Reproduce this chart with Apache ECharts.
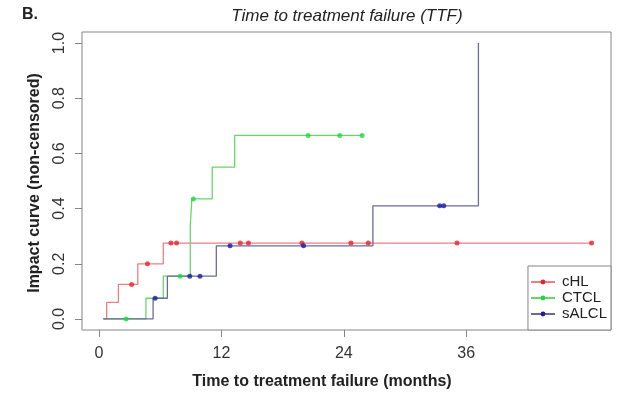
<!DOCTYPE html>
<html>
<head>
<meta charset="utf-8">
<script src="https://cdn.jsdelivr.net/npm/echarts@6/dist/echarts.min.js"></script>
<style>
  html, body { margin: 0; padding: 0; background: #fff; }
  #chart { width: 621px; height: 397px; }
</style>
</head>
<body>
<div id="chart"></div>
<script>
// Cumulative incidence of treatment failure, months since start.
// Step curves: value holds from each time until the next one.
const cHLTimes    = [0.42, 0.75, 1.9, 3.8, 6.3, 48.3];
const cHLValues   = [0, 0.06, 0.125, 0.2, 0.275, 0.275];
const cHLCensored = [3.2, 4.75, 7.05, 7.6, 13.85, 14.65, 19.9, 24.7, 26.4, 35.1, 48.3];

const ctclTimes    = [0.42, 4.6, 6.3, 8.95, 9.1, 11.1, 13.3, 25.8];
const ctclValues   = [0, 0.075, 0.155, 0.34, 0.435, 0.55, 0.665, 0.665];
const ctclCensored = [2.65, 7.95, 9.25, 20.5, 23.6, 25.8];

const salclTimes    = [0.42, 5.3, 6.7, 11.5, 26.85, 37.2];
const salclValues   = [0, 0.075, 0.155, 0.265, 0.41, 1.0];
const salclCensored = [5.5, 8.9, 9.9, 12.85, 20.05, 33.4, 33.8];

const xTicks = [0, 12, 24, 36];
const yTicks = [0, 0.2, 0.4, 0.6, 0.8, 1.0];

const groups = [
  { name: 'cHL',   times: cHLTimes,   values: cHLValues,   censored: cHLCensored,   line: '#ec7f84', dot: '#e8202c' },
  { name: 'CTCL',  times: ctclTimes,  values: ctclValues,  censored: ctclCensored,  line: '#6ad66a', dot: '#1ed83c' },
  { name: 'sALCL', times: salclTimes, values: salclValues, censored: salclCensored, line: '#6b6b98', dot: '#1c1ca8' }
];

// value of a step curve at time t
function stepValue(times, values, t) {
  let v = values[0];
  for (let i = 0; i < times.length; i++) {
    if (times[i] <= t) v = values[i];
  }
  return v;
}

const series = [];
groups.forEach(g => {
  series.push({
    name: g.name,
    type: 'line',
    step: 'end',
    data: g.times.map((t, i) => [t, g.values[i]]),
    symbol: 'circle',
    showSymbol: false,
    lineStyle: { color: g.line, width: 1.3 },
    itemStyle: { color: g.dot },
    animation: false,
    silent: true
  });
});
groups.forEach(g => {
  series.push({
    name: g.name + ' censored',
    type: 'scatter',
    data: g.censored.map(t => [t, stepValue(g.times, g.values, t)]),
    symbol: 'circle',
    symbolSize: 5,
    itemStyle: { color: g.dot },
    animation: false,
    silent: true,
    z: 3
  });
});

const axisGray = '#858585';
const fontFam = 'Liberation Sans, Arial, Helvetica, sans-serif';

const chart = echarts.init(document.getElementById('chart'), null, { renderer: 'canvas' });
chart.setOption({
  animation: false,
  backgroundColor: '#ffffff',
  grid: {
    left: 82, right: 10, top: 32, bottom: 67,
    show: true, borderColor: axisGray, borderWidth: 1, backgroundColor: 'transparent'
  },
  xAxis: {
    type: 'value',
    min: -1.67, max: 50.2,
    axisLine: { show: false, onZero: false },
    axisTick: { show: true, inside: false, length: 7, customValues: xTicks, lineStyle: { color: axisGray } },
    axisLabel: { customValues: xTicks, margin: 16, color: '#333', fontSize: 16, fontFamily: fontFam },
    splitLine: { show: false }
  },
  yAxis: {
    type: 'value',
    min: -0.04, max: 1.04,
    axisLine: { show: false, onZero: false },
    axisTick: { show: true, inside: false, length: 7, customValues: yTicks, lineStyle: { color: axisGray } },
    axisLabel: {
      customValues: yTicks, rotate: 90, margin: 14, color: '#333', fontSize: 16, fontFamily: fontFam,
      formatter: v => v.toFixed(1)
    },
    splitLine: { show: false }
  },
  legend: {
    data: groups.map(g => g.name),
    orient: 'vertical',
    right: 10, bottom: 67,
    itemWidth: 24, itemHeight: 6, itemGap: 0,
    padding: [8, 4, 8, 2],
    borderColor: axisGray, borderWidth: 1, borderRadius: 0,
    backgroundColor: '#fff',
    selectedMode: false,
    textStyle: { fontSize: 15, lineHeight: 16, color: '#222', fontFamily: fontFam, padding: [0, 0, 0, 2] }
  },
  graphic: [
    { type: 'text', left: 22, top: 7, style: { text: 'B.', font: 'bold 16px ' + fontFam, fill: '#222' } },
    { type: 'text', x: 347, y: 16, style: { text: 'Time to treatment failure (TTF)', font: 'italic 17px ' + fontFam, fill: '#222', textAlign: 'center', textVerticalAlign: 'middle' } },
    { type: 'text', x: 322, y: 382, style: { text: 'Time to treatment failure (months)', font: 'bold 16px ' + fontFam, fill: '#222', textAlign: 'center', textVerticalAlign: 'middle' } },
    { type: 'text', x: 35, y: 183, rotation: Math.PI / 2, style: { text: 'Impact curve (non-censored)', font: 'bold 16px ' + fontFam, fill: '#222', textAlign: 'center', textVerticalAlign: 'middle' } }
  ],
  series: series
});
</script>
</body>
</html>
